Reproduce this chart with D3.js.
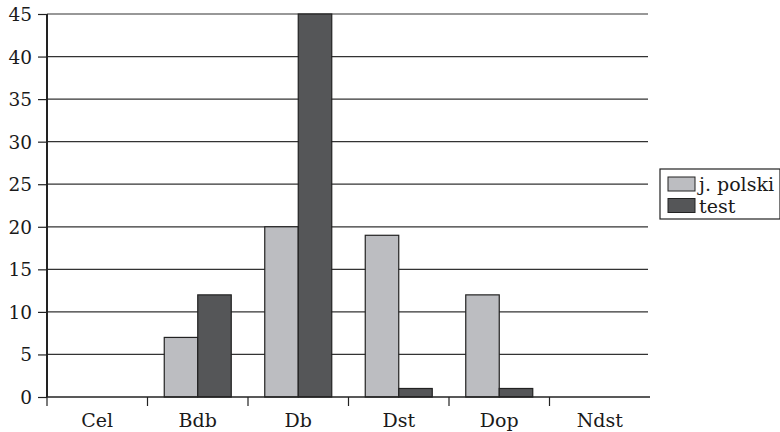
<!DOCTYPE html>
<html><head><meta charset="utf-8">
<script src="https://cdn.jsdelivr.net/npm/d3@7"></script>
<style>body{margin:0;background:#fff}svg{display:block}</style>
</head><body>
<svg id="c" width="780" height="432"></svg>
<script>
const categories = ["Cel","Bdb","Db","Dst","Dop","Ndst"];
const seriesNames = ["j. polski","test"];
const polski = [0,7,20,19,12,0];
const test = [0,12,45,1,1,0];
const yTicks = [0,5,10,15,20,25,30,35,40,45];
const colors = ["#bcbdc1","#555658"];

const svg = d3.select("#c");
const font = "'DejaVu Serif', serif";
const L=47, R=650, T=14, B=397;
const x = d3.scaleBand().domain(categories).range([L,R]).paddingInner(0).paddingOuter(0);
const xs = d3.scaleBand().domain(seriesNames).range([x.bandwidth()/6, x.bandwidth()*5/6]);
const y = d3.scaleLinear().domain([0,45]).range([B,T]);

// gridlines
svg.append("g").selectAll("line").data(yTicks.filter(d=>d>0)).join("line")
  .attr("x1",L).attr("x2",648).attr("y1",d=>y(d)).attr("y2",d=>y(d))
  .attr("stroke","#333").attr("stroke-width",1.2);

// bars
const data = [polski,test];
data.forEach((arr,si)=>{
  svg.append("g").selectAll("rect").data(arr.map((v,i)=>({v,c:categories[i]}))).join("rect")
    .attr("x",d=>x(d.c)+xs(seriesNames[si]))
    .attr("width",xs.bandwidth())
    .attr("y",d=>y(d.v))
    .attr("height",d=>y(0)-y(d.v))
    .attr("fill",colors[si]).attr("stroke","#222").attr("stroke-width",d=>d.v===0?2.4:1.2);
});

// y axis
const ya = svg.append("g").attr("transform",`translate(${L},0)`)
  .call(d3.axisLeft(y).tickValues(yTicks).tickSize(9).tickPadding(6));
ya.select(".domain").remove();
ya.selectAll(".tick line").attr("stroke","#222").attr("stroke-width",1.2);
ya.selectAll("text").attr("font-family",font).attr("font-size",18.5).attr("fill","#1a1a1a").attr("dy","0.35em");
svg.append("line").attr("x1",L).attr("x2",L).attr("y1",T).attr("y2",B).attr("stroke","#222").attr("stroke-width",2);

// x axis
svg.append("line").attr("x1",L).attr("x2",R).attr("y1",B).attr("y2",B).attr("stroke","#222").attr("stroke-width",1.5);
const bounds = categories.map(c=>x(c));
svg.append("g").selectAll("line").data(bounds).join("line")
  .attr("x1",d=>d).attr("x2",d=>d).attr("y1",B).attr("y2",B+9).attr("stroke","#222").attr("stroke-width",1.2);
svg.append("g").selectAll("text").data(categories).join("text")
  .attr("x",d=>x(d)+x.bandwidth()/2).attr("y",427).attr("text-anchor","middle")
  .attr("font-family",font).attr("font-size",19).attr("fill","#1a1a1a").text(d=>d);

// legend
const lg = svg.append("g");
lg.append("rect").attr("x",660).attr("y",169).attr("width",120).attr("height",50)
  .attr("fill","#fff").attr("stroke","#222").attr("stroke-width",1.2);
seriesNames.forEach((n,i)=>{
  lg.append("rect").attr("x",668).attr("y",177+i*21.5).attr("width",27).attr("height",14)
    .attr("fill",colors[i]).attr("stroke","#222").attr("stroke-width",1);
  lg.append("text").attr("x",699).attr("y",191+i*22).attr("font-family",font).attr("font-size",19)
    .attr("fill","#1a1a1a").text(n);
});
</script>
</body></html>
